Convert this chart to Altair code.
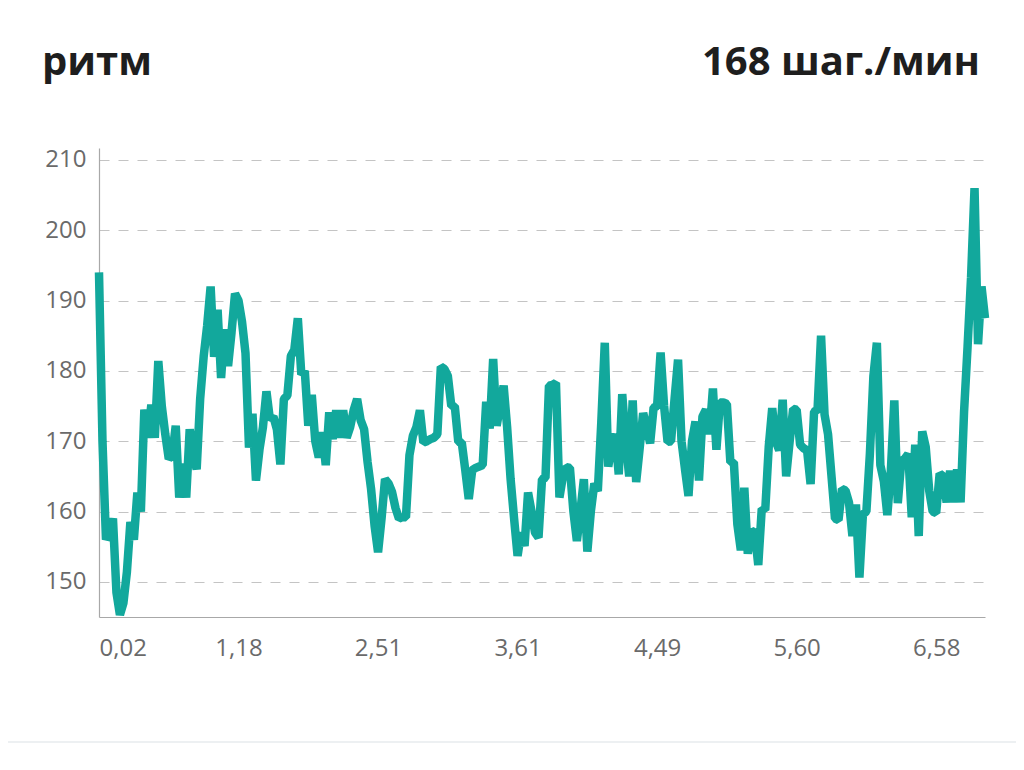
import altair as alt
import pandas as pd

# cadence samples (steps/min), equally spaced along the run
cadence = [
    194, 170, 156, 157, 159, 148.5, 145.3, 147, 151.4, 158.5,
    156, 162.7, 160, 174.5, 170.5, 175.2, 170.5, 181.4, 175, 171,
    167.5, 168, 172.2, 162, 166.8, 162, 171.7, 168, 166, 176,
    182, 186.4, 192, 182, 188.7, 179, 185.9, 180.7, 185.5, 191,
    190, 187, 182.5, 169.1, 173.9, 164.4, 168.8, 172, 177.1, 173.1,
    173.5, 171.7, 166.7, 176, 176.5, 182.1, 183, 187.5, 179.5, 180,
    172.2, 176.6, 170, 167.7, 171.3, 166.6, 174.1, 170.3, 174.4, 170.5,
    174.4, 170.5, 172, 174.4, 176, 173, 171.7, 167, 163.2, 158,
    154.2, 159, 164.6, 164, 162.8, 160.5, 159, 159.2, 159.2, 168,
    170.8, 172, 174.4, 169.8, 170, 170.3, 170.5, 171, 180.6, 180.3,
    179.3, 175, 175, 169.9, 169.8, 165.9, 161.8, 165.9, 166.2, 166.4,
    166.6, 175.6, 171.8, 181.7, 172.2, 175, 177.9, 172, 164.6, 159,
    153.7, 157, 155.1, 162.7, 160, 157, 156.3, 164.6, 164.8, 177.9,
    178, 178.3, 162, 165, 166.3, 166.2, 160, 155.8, 160, 164.6,
    154.3, 160, 164, 162.9, 172.7, 184, 166.4, 169.5, 171, 165.3,
    176.7, 170, 165, 175.8, 164.2, 169, 174, 172, 169.7, 174.8,
    175, 182.6, 175, 169.9, 170, 176, 181.6, 170, 166, 162.2,
    170, 172.8, 164.4, 173.5, 174.5, 171, 177.5, 168.8, 175.5, 175.5,
    175.3, 167, 167, 158.2, 154.5, 163.4, 154, 157.3, 157, 152.4,
    160.4, 160.2, 169.2, 174.7, 170, 168.7, 175.9, 165, 170, 174.6,
    174.5, 169.5, 169, 168.7, 163.9, 174.2, 174.5, 185, 173.8, 171,
    165, 159, 158.8, 163.2, 163, 161.3, 156.5, 161, 150.6, 159.6,
    160, 168.2, 179.2, 184, 166.6, 164.3, 159.5, 165.7, 175.8, 161.2,
    167.2, 167.5, 168.2, 159.2, 169.5, 156.5, 171.4, 169.2, 163, 160,
    159.8, 165.4, 165, 161.3, 165.8, 161.3, 166, 161.3, 174.2, 183.4,
    193.3, 206, 183.8, 192, 187.5,
]

# x-axis ticks: sample index -> distance label (km)
tick_index = [0, 40, 80, 120, 160, 200, 240]
tick_labels = ["0,02", "1,18", "2,51", "3,61", "4,49", "5,60", "6,58"]
y_ticks = [150, 160, 170, 180, 190, 200, 210]
y_domain = [145, 211.7]

title_left = "ритм"
title_right = "168 шаг./мин"

df = pd.DataFrame({"i": list(range(len(cadence))), "v": cadence})

idx_str = ",".join(str(v) for v in tick_index)
lab_str = ",".join("'" + s + "'" for s in tick_labels)
label_expr = f"[{lab_str}][indexof([{idx_str}], datum.value)]"

W, H = 886, 469
FONT = "Open Sans"

line = alt.Chart(df).mark_line(
    color="#12a89c", strokeWidth=8.5, strokeJoin="bevel", strokeCap="butt"
).encode(
    x=alt.X(
        "i:Q",
        scale=alt.Scale(domain=[0, len(cadence) - 1], nice=False, zero=False),
        axis=alt.Axis(
            values=tick_index, labelExpr=label_expr, title=None, grid=False,
            ticks=False, labelPadding=19, domainColor="#a8a8a8", domainWidth=1.2,
            labelFlush=True,
        ),
    ),
    y=alt.Y(
        "v:Q",
        scale=alt.Scale(domain=y_domain, nice=False, zero=False),
        axis=alt.Axis(
            values=y_ticks, title=None, grid=True, ticks=False, labelPadding=13,
            gridColor="#c4c4c4", gridDash=[10, 9], gridWidth=1.2,
            domainColor="#a8a8a8", domainWidth=1.2, labelFlush=False,
        ),
    ),
)

left_t = alt.Chart(pd.DataFrame({"t": [title_left]})).mark_text(
    align="left", baseline="alphabetic", font=FONT, fontSize=40,
    fontWeight="bold", color="#1e1e1e",
).encode(text="t:N", x=alt.value(-57), y=alt.value(-73))

right_t = alt.Chart(pd.DataFrame({"t": [title_right]})).mark_text(
    align="right", baseline="alphabetic", font=FONT, fontSize=40,
    fontWeight="bold", color="#1e1e1e",
).encode(text="t:N", x=alt.value(881), y=alt.value(-73))

sep = alt.Chart(pd.DataFrame({"t": [0]})).mark_rule(
    color="#edf0f2", strokeWidth=2
).encode(x=alt.value(-91), x2=alt.value(917), y=alt.value(594))

chart = alt.layer(line, left_t, right_t, sep).properties(
    width=W, height=H,
    autosize=alt.AutoSizeParams(type="none"),
    padding={"left": 91, "top": 140, "right": 31, "bottom": 138},
).configure_view(stroke=None).configure_axis(
    labelFont=FONT, labelFontSize=24, labelColor="#6a6a6a",
)

chart.save("out.html", embed_options={"renderer": "svg", "actions": False})
